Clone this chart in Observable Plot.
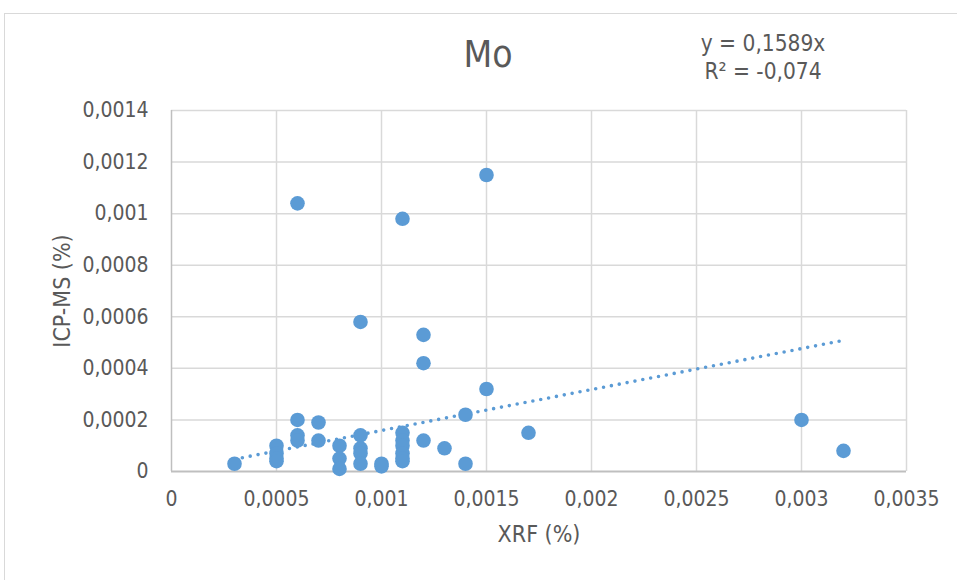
<!DOCTYPE html>
<html>
<head>
<meta charset="utf-8">
<script src="https://cdn.jsdelivr.net/npm/d3@7"></script>
<script src="https://cdn.jsdelivr.net/npm/@observablehq/plot@0.6"></script>
<style>
  html, body { margin: 0; padding: 0; background: #fff; overflow: hidden; }
  body { width: 957px; height: 580px; position: relative; }
  #frame { position: absolute; left: 4px; top: 13px; width: 1000px; height: 600px; border: 1.5px solid #d9d9d9; box-sizing: border-box; }
  #chart { position: absolute; left: 0; top: 0; }
  .t { position: absolute; font-family: "DejaVu Sans Condensed", "Liberation Sans Narrow", sans-serif; color: #595959; white-space: nowrap; }
</style>
</head>
<body>
<div id="frame"></div>
<div id="chart"></div>
<div class="t" id="title" style="left:488px; top:33px; transform:translateX(-50%); font-size:37px;">Mo</div>
<div class="t" style="left:763px; top:29px; transform:translateX(-50%); font-size:22.5px; line-height:28px; text-align:center;">y = 0,1589x<br>R² = -0,074</div>
<script>
const xrf = [
  0.0003,
  0.0005, 0.0005, 0.0005, 0.0005,
  0.0006, 0.0006, 0.0006, 0.0006,
  0.0007, 0.0007,
  0.0008, 0.0008, 0.0008,
  0.0009, 0.0009, 0.0009, 0.0009, 0.0009,
  0.001, 0.001,
  0.0011, 0.0011, 0.0011, 0.0011, 0.0011, 0.0011, 0.0011,
  0.0012, 0.0012, 0.0012,
  0.0013,
  0.0014, 0.0014,
  0.0015, 0.0015,
  0.0017,
  0.003,
  0.0032
];
const icpms = [
  0.00003,
  0.0001, 0.00007, 0.00005, 0.00004,
  0.00104, 0.0002, 0.00014, 0.00012,
  0.00019, 0.00012,
  0.0001, 0.00005, 0.00001,
  0.00058, 0.00014, 0.00009, 0.00007, 0.00003,
  0.00003, 0.00002,
  0.00098, 0.00015, 0.00012, 0.0001, 0.00007, 0.00005, 0.00004,
  0.00053, 0.00042, 0.00012,
  0.00009,
  0.00022, 0.00003,
  0.00115, 0.00032,
  0.00015,
  0.0002,
  0.00008
];
const slope = 0.1589;
const xTicks = [0, 0.0005, 0.001, 0.0015, 0.002, 0.0025, 0.003, 0.0035];
const xTickLabels = ["0", "0,0005", "0,001", "0,0015", "0,002", "0,0025", "0,003", "0,0035"];
const yTicks = [0, 0.0002, 0.0004, 0.0006, 0.0008, 0.001, 0.0012, 0.0014];
const yTickLabels = ["0", "0,0002", "0,0004", "0,0006", "0,0008", "0,001", "0,0012", "0,0014"];

const points = xrf.map((x, i) => ({x, y: icpms[i]}));
const xMin = d3.min(xrf), xMax = d3.max(xrf);
const trend = [{x: xMin, y: slope * xMin}, {x: xMax, y: slope * xMax}];

const font = '"DejaVu Sans Condensed", "Liberation Sans Narrow", sans-serif';
const plot = Plot.plot({
  width: 957,
  height: 580,
  marginLeft: 171,
  marginRight: 51,
  marginTop: 110,
  marginBottom: 109,
  style: {fontFamily: font, fontSize: "21px", color: "#595959", background: "transparent", overflow: "visible"},
  x: {domain: [0, 0.0035]},
  y: {domain: [0, 0.0014]},
  marks: [
    Plot.gridX(xTicks.slice(1), {stroke: "#d9d9d9", strokeOpacity: 1, strokeWidth: 1.5}),
    Plot.gridY(yTicks.slice(1), {stroke: "#d9d9d9", strokeOpacity: 1, strokeWidth: 1.5}),
    Plot.ruleX([0], {stroke: "#bfbfbf", strokeWidth: 1.5}),
    Plot.ruleY([0], {stroke: "#bfbfbf", strokeWidth: 2}),
    Plot.axisX(xTicks, {tickSize: 0, tickPadding: 20, tickFormat: (d, i) => xTickLabels[i], fontSize: 21, fill: "#595959", label: null}),
    Plot.axisY(yTicks, {tickSize: 0, tickPadding: 23, tickFormat: (d, i) => yTickLabels[i], fontSize: 21, fill: "#595959", label: null}),
    Plot.line(trend, {x: "x", y: "y", stroke: "#5b9bd5", strokeWidth: 3.6, strokeDasharray: "0 8", strokeLinecap: "round"}),
    Plot.dot(points, {x: "x", y: "y", r: 7.3, fill: "#5b9bd5", stroke: "none"}),
    Plot.text(["XRF (%)"], {frameAnchor: "bottom", dy: 70, fontSize: 23, fill: "#595959"}),
    Plot.text(["ICP-MS (%)"], {frameAnchor: "left", dx: -109, rotate: -90, textAnchor: "middle", fontSize: 23, fill: "#595959"})
  ]
});
document.getElementById("chart").appendChild(plot);
</script>
</body>
</html>
